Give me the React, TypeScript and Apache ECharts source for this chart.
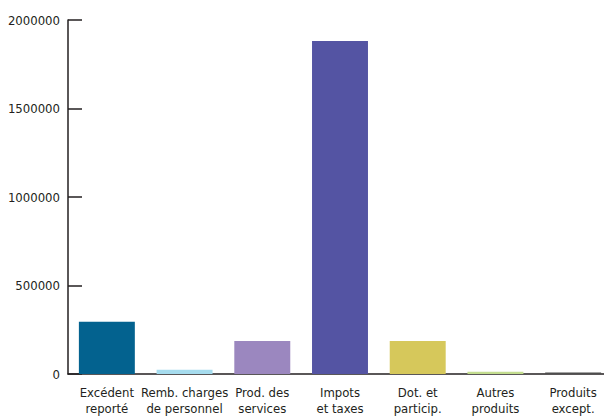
import React, { useEffect, useRef } from "react";
import * as echarts from "echarts";

const categories = [
  "Excédent\nreporté",
  "Remb. charges\nde personnel",
  "Prod. des\nservices",
  "Impots\net taxes",
  "Dot. et\nparticip.",
  "Autres\nproduits",
  "Produits\nexcept.",
];
const values = [295000, 24000, 186000, 1881000, 186000, 13000, 8000];
const colors = ["#03628f", "#a6dcee", "#9b87bf", "#5454a3", "#d6c85b", "#c3dd8f", "#4d4d4d"];

const FONT = "'DejaVu Sans Condensed', sans-serif";

export default function App() {
  const ref = useRef<HTMLDivElement>(null);
  useEffect(() => {
    if (!ref.current) return;
    const chart = echarts.init(ref.current, undefined, { renderer: "svg" });
    chart.setOption({
      animation: false,
      grid: { left: 68, right: -8, top: 20, bottom: 42, containLabel: false, outerBoundsMode: "none" },
      xAxis: {
        type: "category",
        data: categories,
        axisLine: { lineStyle: { color: "#231f20", width: 1.5 } },
        axisTick: { show: false },
        axisLabel: {
          interval: 0,
          color: "#231f20",
          fontFamily: FONT,
          fontSize: 13,
          lineHeight: 16,
          margin: 10,
        },
      },
      yAxis: {
        type: "value",
        min: 0,
        max: 2000000,
        interval: 500000,
        splitLine: { show: false },
        axisLine: { show: true, lineStyle: { color: "#231f20", width: 1.5 } },
        axisTick: { show: true, inside: true, length: 14, lineStyle: { color: "#231f20", width: 1.5 } },
        axisLabel: {
          color: "#231f20",
          fontFamily: FONT,
          fontSize: 13,
          margin: 8,
          formatter: (v: number) => String(v),
        },
      },
      series: [
        {
          type: "bar",
          barCategoryGap: "28%",
          data: values.map((v, i) => ({ value: v, itemStyle: { color: colors[i] } })),
        },
      ],
    });
    return () => chart.dispose();
  }, []);
  return (
    <div
      ref={ref}
      style={{ position: "absolute", left: 0, top: 0, width: 604, height: 416 }}
    />
  );
}
